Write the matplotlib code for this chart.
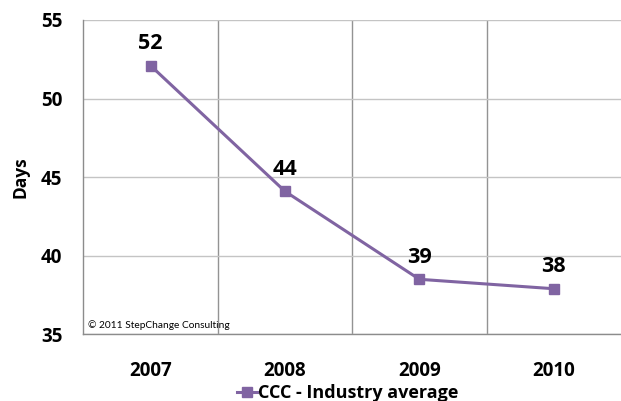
import matplotlib
matplotlib.use("Agg")
import matplotlib.pyplot as plt
import numpy as np

years = ["2007", "2008", "2009", "2010"]
days = [52.1, 44.1, 38.5, 37.9]
labels = ["52", "44", "39", "38"]
series_name = "CCC - Industry average"
yticks = [35, 40, 45, 50, 55]

purple = "#8064A2"

plt.rcParams["font.family"] = ["Open Sans", "DejaVu Sans"]

fig = plt.figure(figsize=(6.21, 4.01), dpi=100)
ax = fig.add_axes([83.3 / 621, 66.7 / 401, 537.7 / 621, 314.3 / 401])

x = np.arange(len(years))
line, = ax.plot(x, days, color=purple, lw=2.2, marker="s", ms=6.5,
                label=series_name, zorder=3)

for xi, v, lab in zip(x, days, labels):
    ax.annotate(lab, (xi, v), xytext=(0, 16), textcoords="offset points",
                ha="center", va="center", fontsize=15.5, fontweight="bold")

ax.set_xlim(-0.5, len(years) - 0.5)
ax.set_ylim(35, 55)
ax.set_xticks(x)
ax.set_xticklabels(years, fontsize=13.5, fontweight="bold")
ax.set_yticks(yticks)
ax.set_yticklabels([str(t) for t in yticks], fontsize=13.5, fontweight="bold")
ax.tick_params(axis="x", length=0, pad=19)
ax.tick_params(axis="y", length=0, pad=15)

# category boundary gridlines, like Excel
ax.set_xticks(x[:-1] + 0.5, minor=True)
ax.tick_params(axis="x", which="minor", length=0)
ax.grid(True, axis="x", which="minor", color="#939393", lw=1)
ax.grid(True, axis="y", which="major", color="#c4c4c4", lw=1)
ax.set_axisbelow(True)

for s in ["top", "right"]:
    ax.spines[s].set_visible(False)
for s in ["left", "bottom"]:
    ax.spines[s].set_color("#8c8c8c")
    ax.spines[s].set_linewidth(1)

ax.set_ylabel("Days", fontsize=12.5, fontweight="bold")
ax.yaxis.set_label_coords(-0.1, 0.5)

ax.text(0.008, 0.03, "\u00a9 2011 StepChange Consulting", transform=ax.transAxes,
        fontsize=7.3, ha="left", va="center", family="Lato")

fig.legend(handles=[line], loc="center", bbox_to_anchor=(347.5 / 621, 1 - 393 / 401),
           frameon=False, prop={"size": 13, "weight": "bold"},
           handlelength=1.1, handletextpad=0.05, borderpad=0, borderaxespad=0)

fig.savefig("out.png", dpi=100)
